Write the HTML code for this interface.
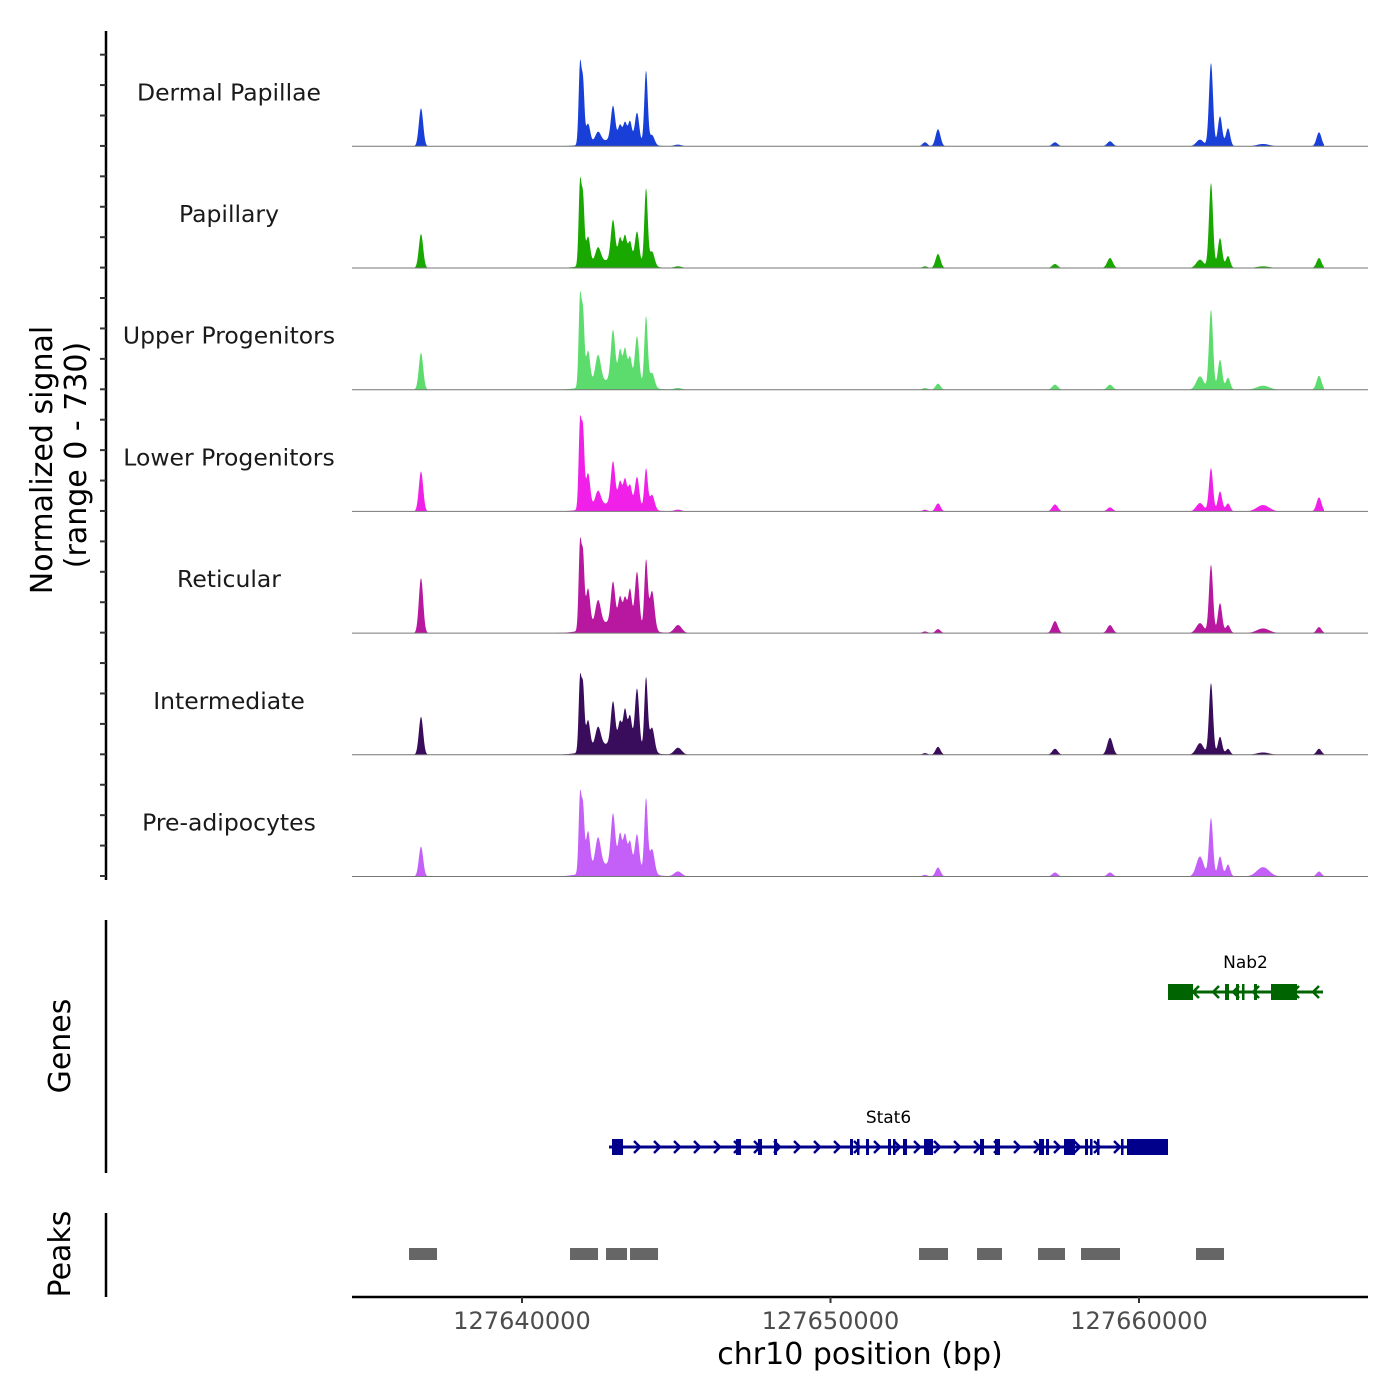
<!DOCTYPE html>
<html><head><meta charset="utf-8">
<style>
html,body{margin:0;padding:0;background:#fff;}
svg{display:block;font-family:"DejaVu Sans","Liberation Sans",sans-serif;}
</style></head>
<body>
<svg id="chart" width="1400" height="1400" viewBox="0 0 1400 1400" xmlns="http://www.w3.org/2000/svg">
<g id="tracks"></g>
<g id="genes"></g>
<g id="peaks"></g>
<g id="axes"></g>
</svg>
<script>
// ---- data ----
const trackNames = ["Dermal Papillae","Papillary","Upper Progenitors","Lower Progenitors","Reticular","Intermediate","Pre-adipocytes"];
const trackColors = ["#1840d8","#18a800","#5cdc6c","#f020e8","#b8189f","#3a0c5c","#c460f8"];
const peakPositions = [127636726,127641880,127641977,127642139,127642464,127642950,127643177,127643339,127643501,127643728,127644020,127644214,127643015,127645057,127653063,127653485,127657277,127659060,127661977,127662334,127662626,127662885,127664020,127665835];
const peakWidths =    [70,45,45,70,90,70,60,60,60,70,55,80,650,120,80,80,90,90,120,65,70,70,200,80];
const dpValues    = [228,470,360,120,60,204,90,108,120,180,440,60,40,10,24,102,24,30,40,500,180,108,14,84];
const papValues   = [204,490,390,168,90,240,132,150,120,192,460,90,50,10,10,84,24,60,50,510,180,72,10,60];
const upperValues = [222,530,420,210,168,300,180,192,150,288,420,90,60,10,10,36,30,30,80,480,180,72,24,84];
const lowerValues = [240,510,450,210,90,252,132,150,120,180,240,90,50,10,10,48,42,24,50,260,120,48,38,84];
const retValues   = [330,510,420,240,150,240,150,150,210,330,410,240,70,48,10,24,72,48,60,410,180,48,28,36];
const intValues   = [228,430,370,180,120,252,132,210,180,360,440,150,70,42,10,48,36,102,70,430,108,36,14,36];
const preValues   = [180,460,370,240,180,300,180,180,150,210,440,150,80,30,10,54,24,24,120,350,120,72,56,30];
const trackValues = [dpValues,papValues,upperValues,lowerValues,retValues,intValues,preValues];
const signalMax = 730;
const xTicks = [127640000,127650000,127660000];
const xTickLabels = ["127640000","127650000","127660000"];
const geneNames = ["Stat6","Nab2"];
const geneStarts = [127642820,127660940];
const geneEnds = [127660940,127665965];
const geneStrand = [1,-1];
const geneColors = ["#00008b","#006400"];
const stat6ExonStarts = [127642917,127646937,127647650,127648169,127650632,127650859,127651151,127651864,127652026,127652350,127653031,127654846,127655332,127656759,127656986,127657569,127658250,127658412,127658639,127659417,127659611];
const stat6ExonEnds   = [127643274,127647099,127647780,127648266,127650729,127650924,127651248,127651961,127652091,127652480,127653323,127654976,127655494,127656921,127657083,127657926,127658347,127658477,127658704,127659482,127660940];
const nab2ExonStarts = [127660940,127662788,127663144,127663339,127663728,127664279];
const nab2ExonEnds   = [127661751,127662917,127663242,127663404,127663825,127665122];
const peakStarts = [127636337,127641556,127642723,127643501,127652869,127654749,127656726,127658120,127661848];
const peakEnds   = [127637245,127642464,127643404,127644409,127653809,127655559,127657601,127659384,127662755];

// ---- helpers ----
const NS="http://www.w3.org/2000/svg";
const X0=352,X1=1368, D0=127634489, D1=127667423;
function xs(bp){return X0+(bp-D0)/(D1-D0)*(X1-X0);}
function mk(tag,attrs,parent){const e=document.createElementNS(NS,tag);for(const k in attrs)e.setAttribute(k,attrs[k]);parent.appendChild(e);return e;}
const tracksG=document.getElementById('tracks'),genesG=document.getElementById('genes'),peaksG=document.getElementById('peaks'),axesG=document.getElementById('axes');
const trackH=121.7, firstBase=146.3;
function ys(v,base){return base - v/signalMax*trackH;}

// ---- signal tracks ----
trackNames.forEach((name,t)=>{
  const base=firstBase+t*trackH;
  const vals=trackValues[t];
  let d=`M${X0},${base}`;
  for(let px=398;px<=1324;px+=0.5){
    const bp=D0+(px-X0)/(X1-X0)*(D1-D0);
    let v=0;
    for(let i=0;i<peakPositions.length;i++){const z=(bp-peakPositions[i])/peakWidths[i];if(Math.abs(z)<5)v+=vals[i]*Math.exp(-0.5*z*z);}
    if(px===398)d+=` L${px},${base}`;
    d+=` L${px.toFixed(1)},${ys(v,base).toFixed(2)}`;
  }
  d+=` L1324,${base} Z`;
  const area=mk('path',{d:d,fill:trackColors[t]},tracksG);
  
  
  const bl=mk('line',{x1:X0,x2:X1,y1:base,y2:base,stroke:'#777','stroke-width':1},tracksG);
  
  
  const lab=mk('text',{x:229,y:base-46,'text-anchor':'middle','font-size':23.5,fill:'#1a1a1a'},tracksG);
  lab.textContent=name;
  
  
});

// ---- genes ----
const geneY=[1147,992];
geneNames.forEach((g,i)=>{
  const y=geneY[i],c=geneColors[i];
  const x1=xs(geneStarts[i]),x2=xs(geneEnds[i]);
  const ln=mk('line',{x1:x1,x2:x2,y1:y,y2:y,stroke:c,'stroke-width':3},genesG);
  
  
  for(let ax=x1+8;ax<x2-4;ax+=20){
    const s=geneStrand[i];
    const ar=mk('polyline',{points:`${ax-3*s},${y-6} ${ax+3*s},${y} ${ax-3*s},${y+6}`,fill:'none',stroke:c,'stroke-width':2.5},genesG);
    
    
  }
  const st=i===0?stat6ExonStarts:nab2ExonStarts, en=i===0?stat6ExonEnds:nab2ExonEnds;
  st.forEach((s,k)=>{
    const ex=mk('rect',{x:xs(s),y:y-8,width:Math.max(2.5,xs(en[k])-xs(s)),height:16,fill:c},genesG);
    
    
  });
  const tl=mk('text',{x:(x1+x2)/2,y:y-24,'text-anchor':'middle','font-size':17,fill:'#000'},genesG);
  tl.textContent=g;
  
  
});

// ---- peaks ----
peakStarts.forEach((s,i)=>{
  const r=mk('rect',{x:xs(s),y:1248,width:xs(peakEnds[i])-xs(s),height:12,fill:'#666'},peaksG);
  
  
});

// ---- axes ----
const yAxis=mk('line',{x1:106,x2:106,y1:31,y2:880,stroke:'#000','stroke-width':2.5},axesG);


for(let y=876;y>=40;y-=30.42){
  const tk=mk('line',{x1:100,x2:106,y1:y,y2:y,stroke:'#333','stroke-width':2},axesG);
  
  
}
const gAxis=mk('line',{x1:106,x2:106,y1:920,y2:1173,stroke:'#000','stroke-width':2.5},axesG);


const pAxis=mk('line',{x1:106,x2:106,y1:1213,y2:1297,stroke:'#000','stroke-width':2.5},axesG);


const xAxis=mk('line',{x1:X0,x2:X1,y1:1297,y2:1297,stroke:'#000','stroke-width':2.5},axesG);


xTicks.forEach((v,i)=>{
  const tk=mk('line',{x1:xs(v),x2:xs(v),y1:1297,y2:1303,stroke:'#333','stroke-width':2},axesG);
  
  
  const tl=mk('text',{x:xs(v),y:1329,'text-anchor':'middle','font-size':24,fill:'#4d4d4d'},axesG);
  tl.textContent=xTickLabels[i];
  
  
});
const xt=mk('text',{x:860,y:1364,'text-anchor':'middle','font-size':30,fill:'#000'},axesG);
xt.textContent='chr10 position (bp)';


function rotText(txt,x,y,name){
  const t=mk('text',{x:0,y:0,transform:`translate(${x},${y}) rotate(-90)`,'text-anchor':'middle','font-size':30,fill:'#000'},axesG);
  t.textContent=txt;
  
  
}
rotText('Normalized signal',52,460,'y-axis-title');
rotText('(range 0 - 730)',86,455,'y-axis-range');
rotText('Genes',70,1046,'genes-title');
rotText('Peaks',70,1254,'peaks-title');
</script>
</body></html>
